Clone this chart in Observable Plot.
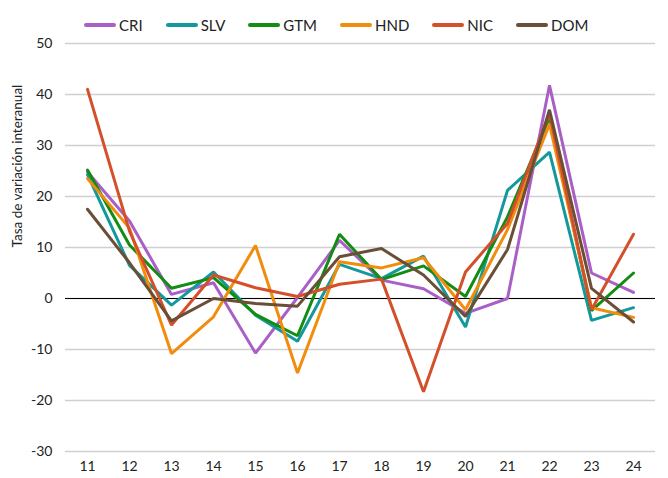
<!DOCTYPE html>
<html>
<head>
<meta charset="utf-8">
<script src="https://cdn.jsdelivr.net/npm/d3@7"></script>
<script src="https://cdn.jsdelivr.net/npm/@observablehq/plot@0.6"></script>
<style>
  html, body { margin: 0; padding: 0; background: #fff; }
  #wrap { position: relative; width: 668px; height: 478px; font-family: "Lato", "DejaVu Sans", sans-serif; }
  #legend { position: absolute; left: 84px; top: 16px; display: flex; gap: 0; font-size: 15px; color: #222; }
  .item { display: flex; align-items: center; margin-right: 23px; }
  .sw { width: 32px; height: 4px; border-radius: 2px; margin-right: 3px; }
  svg { display: block; }
</style>
</head>
<body>
<div id="wrap">
  <div id="chart"></div>
  <div id="legend"></div>
</div>
<script>
const months = ["11","12","13","14","15","16","17","18","19","20","21","22","23","24"];
const seriesNames = ["CRI","SLV","GTM","HND","NIC","DOM"];
const seriesColors = ["#a95fc6","#13999b","#138c13","#f28c0c","#d4502a","#6b4e36"];
const CRI = [24.8, 15.2, 0.8, 3.1, -10.7, 0.2, 11.4, 3.6, 1.9, -2.9, 0.0, 41.8, 5.0, 1.2];
const SLV = [24.3, 6.5, -1.3, 5.2, -3.3, -8.4, 6.7, 3.9, 8.3, -5.6, 21.2, 28.7, -4.3, -1.8];
const GTM = [25.2, 10.5, 2.0, 4.1, -3.1, -7.3, 12.6, 3.7, 6.4, 0.4, 16.0, 35.5, -2.4, 5.0];
const HND = [23.5, 13.8, -10.8, -3.6, 10.4, -14.6, 7.2, 6.0, 8.0, -2.2, 13.5, 34.2, -1.8, -3.7];
const NIC = [41.0, 13.2, -5.2, 4.6, 2.1, 0.4, 2.8, 3.8, -18.3, 5.2, 14.7, 36.3, -2.2, 12.6];
const DOM = [17.5, 7.0, -4.4, 0.0, -1.0, -1.5, 8.2, 9.8, 4.6, -3.5, 9.6, 37.0, 2.0, -4.6];
const yTicks = [-30,-20,-10,0,10,20,30,40,50];
const yTitle = "Tasa de variación interanual";

const valuesBySeries = {CRI, SLV, GTM, HND, NIC, DOM};
const data = [];
for (const s of seriesNames) {
  valuesBySeries[s].forEach((v, i) => data.push({series: s, month: months[i], value: v}));
}

const chart = Plot.plot({
  width: 668,
  height: 478,
  marginLeft: 65,
  marginRight: 13,
  marginTop: 43,
  marginBottom: 27,
  style: {fontFamily: "Lato, 'DejaVu Sans', sans-serif", fontSize: "14px", color: "#222", background: "#fff"},
  x: {type: "point", domain: months, padding: 0.5, label: null},
  y: {domain: [-30, 50], label: null},
  color: {domain: seriesNames, range: seriesColors},
  marks: [
    Plot.ruleY(yTicks, {stroke: "#d0d0d0", strokeWidth: 1.5}),
    Plot.ruleY([0], {stroke: "#000", strokeWidth: 1.2}),
    Plot.lineY(data, {x: "month", y: "value", z: "series", stroke: "series", strokeWidth: 3, strokeLinejoin: "miter", strokeLinecap: "round"}),
    Plot.axisX({tickSize: 0, tickPadding: 10, fontSize: 14, label: null}),
    Plot.axisY({ticks: yTicks, tickSize: 0, tickPadding: 13, fontSize: 14, label: null, tickFormat: d => String(d)}),
    Plot.text([yTitle], {frameAnchor: "left", dx: -48, rotate: -90, fontSize: 13.5, fill: "#222"})
  ]
});
document.getElementById("chart").appendChild(chart);

const legend = document.getElementById("legend");
seriesNames.forEach((s, i) => {
  const it = document.createElement("div");
  it.className = "item";
  const sw = document.createElement("div");
  sw.className = "sw";
  sw.style.background = seriesColors[i];
  const t = document.createElement("span");
  t.textContent = s;
  it.appendChild(sw); it.appendChild(t);
  legend.appendChild(it);
});
</script>
</body>
</html>
